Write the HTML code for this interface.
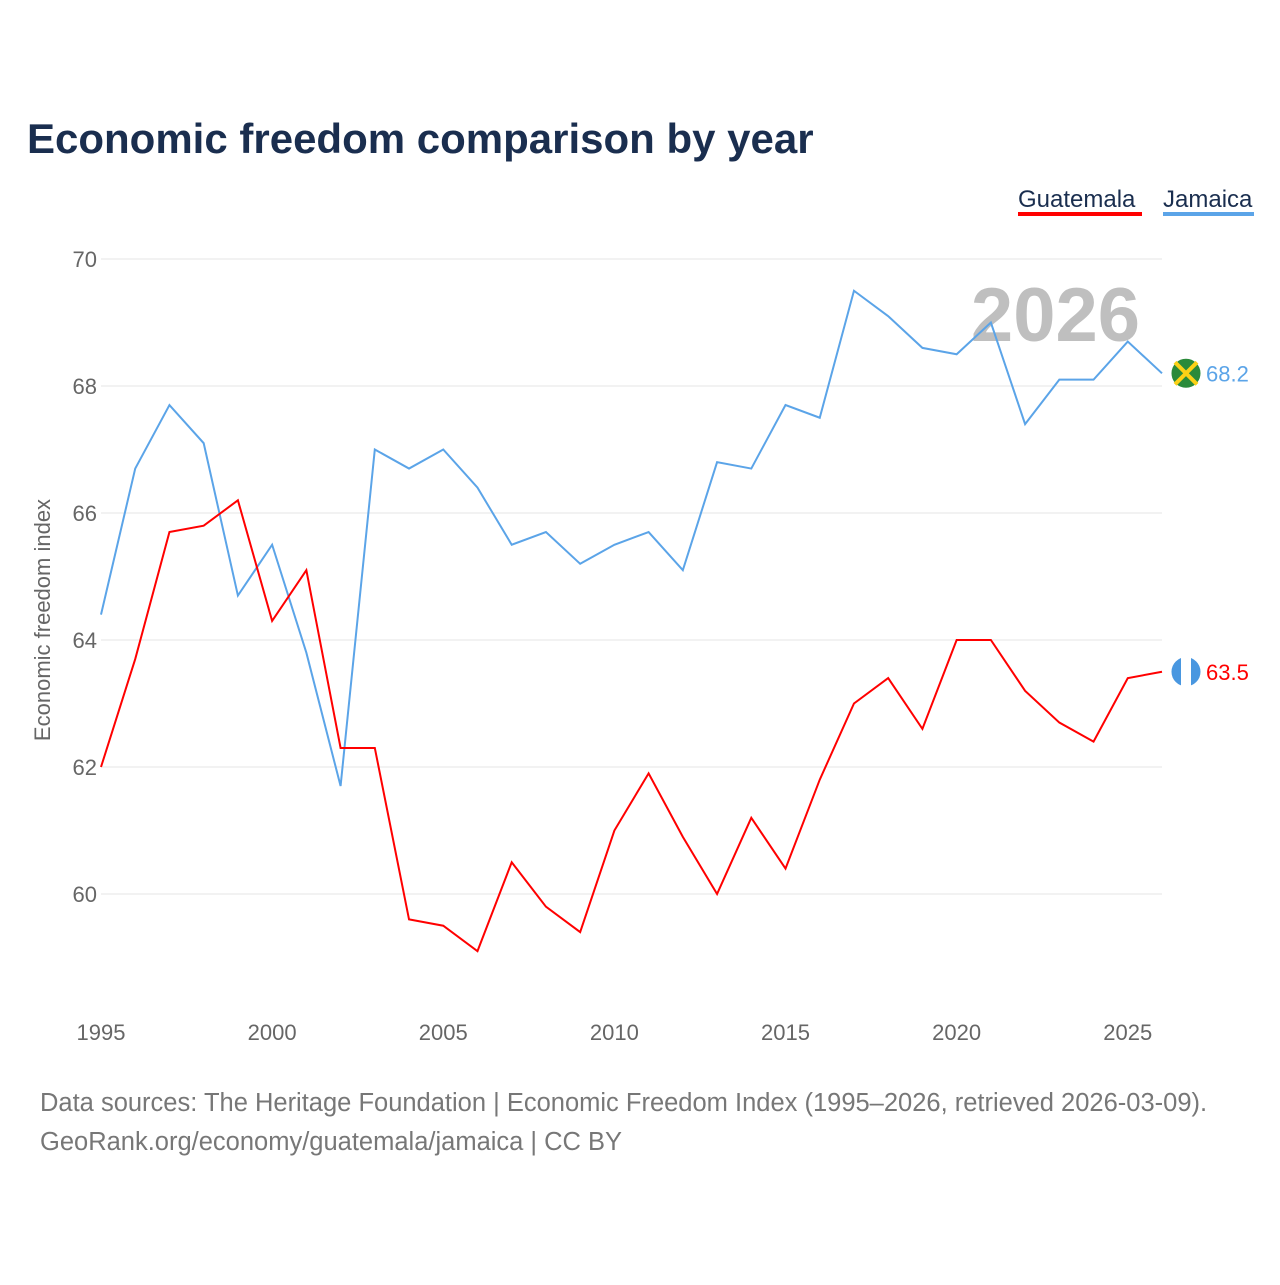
<!DOCTYPE html>
<html><head><meta charset="utf-8"><style>
body{margin:0;background:#fff;width:1280px;height:1280px;overflow:hidden;font-family:"Liberation Sans",sans-serif}
</style></head><body>
<svg id="chart" width="1280" height="1280">
<text x="27" y="153" font-size="42" font-weight="bold" fill="#1a2e4f">Economic freedom comparison by year</text>
<g>
<text x="1018" y="207" font-size="24" fill="#1a2e4f">Guatemala</text>
<rect x="1018" y="212" width="124" height="4" fill="#f00"/>
<text x="1163" y="207" font-size="24" fill="#1a2e4f">Jamaica</text>
<rect x="1163" y="212" width="91" height="4" fill="#5ba4e8"/>
</g>
<text x="1140" y="341" font-size="76" font-weight="bold" fill="#bfbfbf" text-anchor="end">2026</text>
<g id="grid"></g><g id="lines"></g>
<text transform="translate(50,620) rotate(-90)" font-size="22" fill="#666" text-anchor="middle">Economic freedom index</text>
<text x="40" y="1111" font-size="25.5" fill="#777">Data sources: The Heritage Foundation | Economic Freedom Index (1995–2026, retrieved 2026-03-09).</text>
<text x="40" y="1150" font-size="25.5" fill="#777">GeoRank.org/economy/guatemala/jamaica | CC BY</text>
</svg>
<script>
const years=[1995,1996,1997,1998,1999,2000,2001,2002,2003,2004,2005,2006,2007,2008,2009,2010,2011,2012,2013,2014,2015,2016,2017,2018,2019,2020,2021,2022,2023,2024,2025,2026];
const guatemala=[62.0,63.7,65.7,65.8,66.2,64.3,65.1,62.3,62.3,59.6,59.5,59.1,60.5,59.8,59.4,61.0,61.9,60.9,60.0,61.2,60.4,61.8,63.0,63.4,62.6,64.0,64.0,63.2,62.7,62.4,63.4,63.5];
const jamaica=[64.4,66.7,67.7,67.1,64.7,65.5,63.8,61.7,67.0,66.7,67.0,66.4,65.5,65.7,65.2,65.5,65.7,65.1,66.8,66.7,67.7,67.5,69.5,69.1,68.6,68.5,69.0,67.4,68.1,68.1,68.7,68.2];
const yTicks=[60,62,64,66,68,70];
const xTicks=[1995,2000,2005,2010,2015,2020,2025];
const NS="http://www.w3.org/2000/svg";
const x=v=>101+(v-1995)*(1162-101)/31;
const y=v=>894-(v-60)*63.5;
const grid=document.getElementById('grid'),lines=document.getElementById('lines');
function mk(tag,attrs,parent,txt){const e=document.createElementNS(NS,tag);for(const k in attrs)e.setAttribute(k,attrs[k]);if(txt!==undefined)e.textContent=txt;parent.appendChild(e);return e;}
yTicks.forEach(t=>{
 const l=mk('line',{x1:101,x2:1162,y1:y(t),y2:y(t),stroke:'#e6e6e6','stroke-width':1},grid);
 
 
 const tx=mk('text',{x:97,y:y(t)+8,'font-size':22,fill:'#666','text-anchor':'end'},grid,t);
 
 
});
xTicks.forEach(t=>{
 const tx=mk('text',{x:x(t),y:1040,'font-size':22,fill:'#666','text-anchor':'middle'},grid,t);
 
 
});
function series(vals,color,name){
 const p=mk('polyline',{points:vals.map((v,i)=>x(years[i])+','+y(v)).join(' '),fill:'none',stroke:color,'stroke-width':2},lines);
 
 
 const last=vals[vals.length-1],lx=x(years[years.length-1])+24,ly=y(last);
 const c=mk('circle',{cx:lx,cy:ly,r:15,fill:name==='jamaica'?'#2a8a3a':'#4997e0',stroke:'#fff','stroke-width':1},lines);
 
 
 if(name==='jamaica'){mk('path',{d:`M${lx-11},${ly-11}L${lx+11},${ly+11}M${lx+11},${ly-11}L${lx-11},${ly+11}`,stroke:'#fcd116','stroke-width':4},lines);}
 else{mk('rect',{x:lx-5,y:ly-15,width:10,height:30,fill:'#fff'},lines);}
 const t=mk('text',{x:lx+20,y:ly+8,'font-size':22,fill:color},lines,last.toFixed(1));
 
 
}
series(jamaica,'#5ba4e8','jamaica');
series(guatemala,'#f00','guatemala');
</script>
</body></html>
